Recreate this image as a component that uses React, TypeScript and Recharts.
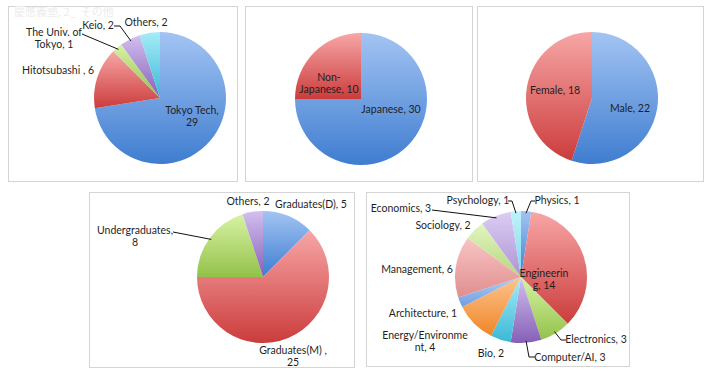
import React from "react";
import { PieChart, Pie, Cell } from "recharts";

const univNames = ["Tokyo Tech", "Hitotsubashi", "The Univ. of Tokyo", "Keio", "Others"];
const univValues = [29, 6, 1, 2, 2];
const univLabels = [["Tokyo Tech,", "29"], ["Hitotsubashi , 6"], ["The Univ. of", "Tokyo, 1"], ["Keio, 2"], ["Others, 2"]];

const nationNames = ["Japanese", "Non-Japanese"];
const nationValues = [30, 10];
const nationLabels = [["Japanese, 30"], ["Non-", "Japanese, 10"]];

const genderNames = ["Male", "Female"];
const genderValues = [22, 18];
const genderLabels = [["Male, 22"], ["Female, 18"]];

const statusNames = ["Graduates(D)", "Graduates(M)", "Undergraduates", "Others"];
const statusValues = [5, 25, 8, 2];
const statusLabels = [["Graduates(D), 5"], ["Graduates(M) ,", "25"], ["Undergraduates,", "8"], ["Others, 2"]];

const fieldNames = [
  "Physics", "Engineering", "Electronics", "Computer/AI", "Bio", "Energy/Environment",
  "Architecture", "Management", "Sociology", "Economics", "Psychology",
];
const fieldValues = [1, 14, 3, 3, 2, 4, 1, 6, 2, 3, 1];
const fieldLabels = [
  ["Physics, 1"], ["Engineerin", "g, 14"], ["Electronics, 3"], ["Computer/AI, 3"], ["Bio, 2"],
  ["Energy/Environme", "nt, 4"], ["Architecture, 1"], ["Management, 6"], ["Sociology, 2"],
  ["Economics, 3"], ["Psychology, 1"],
];

// excel-ish gradient fills, light top -> dark bottom
const gradients: Record<string, [string, string]> = {
  blue: ["#a3c4f3", "#3f7dd0"],
  red: ["#f7a6a6", "#cc3c3c"],
  green: ["#d8f2a4", "#92c24a"],
  purple: ["#d2bff0", "#8560b6"],
  cyan: ["#a6ecf8", "#3ab8d6"],
  orange: ["#fdc48e", "#ef8628"],
  blue2: ["#b0cef6", "#6e9ee0"],
  red2: ["#f9c4c4", "#e08e8e"],
  green2: ["#e2f5c0", "#b6d67e"],
  purple2: ["#dccdf2", "#ac92d6"],
  cyan2: ["#c0f2fb", "#7cd6ea"],
};
const cycle = ["blue", "red", "green", "purple", "cyan", "orange", "blue2", "red2", "green2", "purple2", "cyan2"];

type Spot = { dx: number; dy: number; leader?: [number, number][] };

// label placement relative to the pie centre
const univSpots: Spot[] = [
  { dx: 32, dy: 12 },
  { dx: -102, dy: -28 },
  { dx: -106, dy: -66, leader: [[-78, -64]] },
  { dx: -62, dy: -73, leader: [[-46, -72], [-40, -72]] },
  { dx: -14, dy: -76 },
];
const nationSpots: Spot[] = [{ dx: 30, dy: 10 }, { dx: -32, dy: -22 }];
const genderSpots: Spot[] = [{ dx: 38, dy: 10 }, { dx: -37, dy: -8 }];
const statusSpots: Spot[] = [
  { dx: 48, dy: -73 },
  { dx: 30, dy: 73 },
  { dx: -128, dy: -47, leader: [[-90, -45]] },
  { dx: -15, dy: -76 },
];
const fieldSpots: Spot[] = [
  { dx: 36, dy: -77, leader: [[14, -76], [10, -76]] },
  { dx: 23, dy: -4 },
  { dx: 75, dy: 62, leader: [[45, 63], [40, 63]] },
  { dx: 49, dy: 80, leader: [[14, 80], [8, 80]] },
  { dx: -30, dy: 76 },
  { dx: -96, dy: 58 },
  { dx: -98, dy: 36 },
  { dx: -104, dy: -8 },
  { dx: -78, dy: -52 },
  { dx: -120, dy: -69, leader: [[-89, -67]] },
  { dx: -43, dy: -77, leader: [[-13, -76], [-9, -76]] },
];

const RAD = Math.PI / 180;

function makeLabel(lines: string[][], spots: Spot[]) {
  return (props: any) => {
    const { cx, cy, midAngle, outerRadius, index } = props;
    const s = spots[index];
    const x = cx + s.dx;
    const y = cy + s.dy;
    let leader = null;
    if (s.leader) {
      const ex = cx + (outerRadius - 2) * Math.cos(-midAngle * RAD);
      const ey = cy + (outerRadius - 2) * Math.sin(-midAngle * RAD);
      const pts = s.leader
        .map(([a, b]) => `${cx + a},${cy + b}`)
        .concat(`${ex},${ey}`)
        .join(" ");
      leader = <polyline points={pts} fill="none" stroke="#111" strokeWidth={1} />;
    }
    return (
      <g key={`lbl-${index}`}>
        {leader}
        <text
          x={x}
          y={y}
          textAnchor="middle"
          dominantBaseline="central"
          fontFamily="Lato, 'Open Sans', sans-serif"
          fontSize={10.5}
          fill="#1f1f1f"
        >
          {lines[index].map((ln, i) => (
            <tspan key={i} x={x} dy={i === 0 ? 0 : 12}>
              {ln}
            </tspan>
          ))}
        </text>
      </g>
    );
  };
}

function PieBox(props: {
  left: number; top: number; width: number; height: number;
  cx: number; cy: number;
  names: string[]; values: number[]; lines: string[][]; spots: Spot[];
}) {
  const { left, top, width, height, cx, cy, names, values, lines, spots } = props;
  const data = names.map((name, i) => ({ name, value: values[i] }));
  return (
    <div
      style={{
        position: "absolute", left, top, width, height,
        border: "1px solid #d4d4d4", boxSizing: "border-box", background: "#fff",
      }}
    >
      <PieChart width={width - 2} height={height - 2} margin={{ top: 0, right: 0, bottom: 0, left: 0 }}>
        <Pie
          data={data}
          dataKey="value"
          nameKey="name"
          cx={cx}
          cy={cy}
          outerRadius={66}
          startAngle={90}
          endAngle={-270}
          stroke="none"
          labelLine={false}
          label={makeLabel(lines, spots)}
          isAnimationActive={false}
        >
          {data.map((d, i) => (
            <Cell key={d.name} fill={`url(#g-${cycle[i % cycle.length]})`} />
          ))}
        </Pie>
      </PieChart>
    </div>
  );
}

export default function App() {
  return (
    <div style={{ position: "relative", width: 710, height: 375, background: "#fff", overflow: "hidden" }}>
      <style>{"body{margin:0}"}</style>
      <svg width={0} height={0} style={{ position: "absolute" }}>
        <defs>
          {Object.entries(gradients).map(([k, [a, b]]) => (
            <linearGradient key={k} id={`g-${k}`} x1="0" y1="0" x2="0" y2="1">
              <stop offset="0%" stopColor={a} />
              <stop offset="100%" stopColor={b} />
            </linearGradient>
          ))}
        </defs>
      </svg>
      <PieBox left={8} top={6} width={230} height={176} cx={151} cy={91}
        names={univNames} values={univValues} lines={univLabels} spots={univSpots} />
      <div style={{
        position: "absolute", left: 14, top: 3, fontSize: 11, color: "#ededed",
        fontFamily: "'Noto Sans CJK JP', sans-serif",
      }}>慶應義塾, 2_&nbsp;&nbsp;その他</div>
      <PieBox left={245} top={6} width={228} height={176} cx={115} cy={92}
        names={nationNames} values={nationValues} lines={nationLabels} spots={nationSpots} />
      <PieBox left={477} top={6} width={227} height={176} cx={114} cy={91}
        names={genderNames} values={genderValues} lines={genderLabels} spots={genderSpots} />
      <PieBox left={89} top={192} width={266} height={176} cx={173} cy={84}
        names={statusNames} values={statusValues} lines={statusLabels} spots={statusSpots} />
      <PieBox left={366} top={192} width={264} height={175} cx={154} cy={84}
        names={fieldNames} values={fieldValues} lines={fieldLabels} spots={fieldSpots} />
    </div>
  );
}
